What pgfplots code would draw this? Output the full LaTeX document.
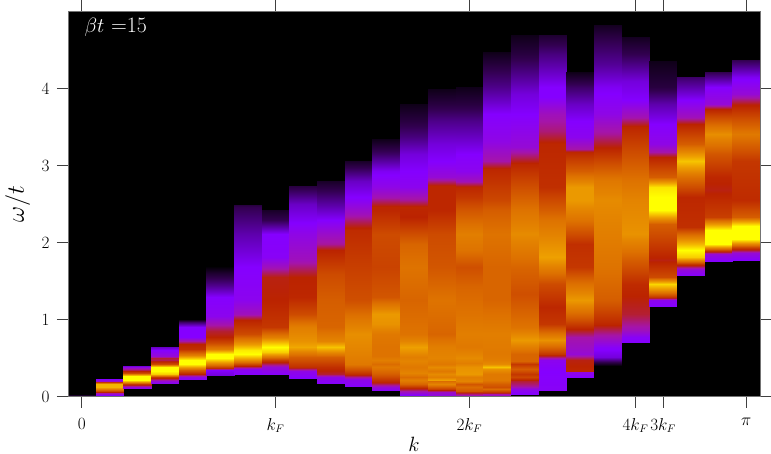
\documentclass[border=0pt]{standalone}
\usepackage{pgfplots}
\pgfplotsset{compat=1.18}

% one spectrum column: left edge, right edge, list of omega/weight stops
\newcommand\speccol[3]{%
  \gdef\buf{}%
  \foreach \w/\c in {#3} {\xdef\buf{\buf (#1,\w) [\c] (#2,\w) [\c]}}%
  \edef\temp{\noexpand\addplot[surf,shader=interp,mesh/cols=2,point meta=explicit] coordinates {\buf};}%
  \temp
}

\begin{document}
\begin{tikzpicture}
\useasboundingbox (-68bp,-57.3bp) rectangle (703bp,396.7bp);
\begin{axis}[
  scale only axis,
  width=692bp, height=385.2bp,
  xmin=-0.5, xmax=24.5, ymin=0, ymax=5,
  xtick={0,7,14,20,21,24},
  xticklabels={$0$,$k_F$,$2k_F$,$4k_F$,$3k_F$,$\pi$},
  ytick={0,1,2,3,4},
  tick align=outside,
  major tick length=11bp,
  tick style={black!75,line width=0.8pt},
  axis line style={black!55,line width=0.8pt},
  xticklabel pos=bottom,
  yticklabel pos=left,
  xtick pos=both, ytick pos=both,
  tick label style={font=\fontsize{16}{16}\selectfont},
  xticklabel style={yshift=-7bp},
  yticklabel style={xshift=-4bp},
  xlabel={$k$}, ylabel={$\omega/t$},
  xlabel style={font=\fontsize{20}{20}\selectfont,inner sep=0pt,yshift=-1bp},
  ylabel style={font=\fontsize{25}{25}\selectfont,inner sep=0pt,yshift=8bp},
  axis background/.style={fill=black},
  axis on top,
  clip=true,
  point meta min=0, point meta max=100,
  colormap={fire}{
    rgb255(0)=(0,0,0)
    rgb255(10)=(50,0,80)
    rgb255(25)=(133,0,255)
    rgb255(35)=(165,20,170)
    rgb255(45)=(187,35,0)
    rgb255(55)=(205,75,0)
    rgb255(65)=(221,112,0)
    rgb255(72)=(228,132,0)
    rgb255(80)=(238,160,0)
    rgb255(90)=(248,205,0)
    rgb255(100)=(255,255,0)
  },
]
\speccol{-0.5}{0.5}{0/15,0.03/0}
\speccol{0.5}{1.5}{.02/0,.021/25,.05/35,.08/55,.13/85,.16/85,.19/50,.21/30,.23/25,.231/0}
\speccol{1.5}{2.5}{.10/0,.101/25,.13/30,.16/50,.22/100,.27/100,.31/55,.35/40,.38/28,.40/22,.401/0}
\speccol{2.5}{3.5}{.17/0,.171/25,.21/30,.25/50,.30/90,.34/100,.38/100,.43/55,.47/40,.50/42,.53/30,.6/25,.65/20,.651/0}
\speccol{3.5}{4.5}{.22/0,.221/25,.26/28,.29/45,.35/60,.42/100,.47/100,.54/70,.62/48,.68/45,.72/35,.78/25,.9/25,.97/12,1.0/4,1.001/0}
\speccol{4.5}{5.5}{.28/0,.281/22,.35/25,.37/48,.42/70,.50/100,.55/100,.62/70,.7/55,.78/45,.85/42,.93/35,1.05/27,1.3/25,1.45/15,1.6/6,1.7/0}
\speccol{5.5}{6.5}{.285/0,.286/25,.36/27,.40/45,.47/75,.55/100,.6/96,.68/78,.81/55,.99/45,1.07/33,1.25/27,1.68/25,2.11/18,2.46/10,2.49/8,2.491/0}
\speccol{6.5}{7.5}{.285/0,.286/25,.38/30,.47/52,.58/90,.64/100,.7/88,.77/70,.9/50,1.25/45,1.55/44,1.68/33,1.81/26,2.11/25,2.29/10,2.42/5,2.421/0}
\speccol{7.5}{8.5}{.24/0,.241/25,.33/28,.38/48,.51/60,.64/82,.72/76,.9/70,1.07/55,1.29/46,1.55/45,1.77/33,2.11/28,2.5/20,2.74/8,2.741/0}
\speccol{8.5}{9.5}{.17/0,.171/25,.25/28,.29/42,.38/48,.51/60,.65/88,.72/72,.9/62,1.25/60,1.59/55,1.9/45,1.98/36,2.29/25,2.55/15,2.8/5,2.801/0}
\speccol{9.5}{10.5}{.13/0,.131/25,.23/28,.29/48,.42/68,.6/72,.81/75,.99/68,1.25/56,1.68/52,2.16/47,2.37/33,2.55/26,2.8/20,3.06/5,3.061/0}
\speccol{10.5}{11.5}{.08/0,.081/26,.13/30,.19/46,.29/60,.38/68,.42/64,.47/70,.53/66,.64/66,.81/68,.94/76,1.07/78,1.29/58,1.68/53,2.11/55,2.42/46,2.46/46,2.59/34,2.72/28,2.93/24,3.15/12,3.35/3,3.351/0}
\speccol{11.5}{12.5}{.02/0,.021/25,.08/35,.12/50,.16/62,.22/70,.26/64,.31/72,.38/68,.46/72,.51/70,.64/80,.72/72,.81/66,1.25/62,1.68/66,1.98/62,2.33/45,2.46/46,2.55/36,2.72/27,2.93/25,3.15/22,3.37/14,3.58/8,3.8/3,3.801/0}
\speccol{12.5}{13.5}{.01/0,.011/28,.06/32,.1/52,.13/60,.17/72,.2/64,.22/80,.25/70,.29/74,.33/68,.38/74,.43/68,.5/72,.64/70,.81/62,1.25/66,1.68/58,2.11/55,2.42/46,2.74/46,2.85/30,3.06/25,3.28/22,3.58/15,3.8/8,4.0/3,4.001/0}
\speccol{13.5}{14.5}{.01/0,.011/30,.05/42,.08/58,.12/64,.16/58,.2/72,.25/70,.3/78,.38/76,.44/70,.5/74,.64/68,.81/70,1.07/66,1.42/62,1.68/56,1.9/66,2.11/70,2.42/58,2.59/50,2.72/46,2.8/33,2.93/27,3.15/25,3.58/15,3.8/8,4.02/3,4.021/0}
\speccol{14.5}{15.5}{.01/0,.011/30,.03/35,.06/50,.1/64,.13/56,.16/60,.22/68,.29/68,.36/76,.39/88,.42/74,.48/70,.55/68,.81/70,1.25/62,1.68/62,2.11/66,2.42/60,2.55/54,2.96/46,3.06/35,3.32/28,3.67/25,4.02/15,4.23/10,4.47/3,4.471/0}
\speccol{15.5}{16.5}{.03/0,.031/25,.1/28,.14/36,.21/42,.25/54,.29/50,.36/60,.42/50,.46/62,.55/62,.73/78,.9/66,1.33/56,1.68/62,2.11/74,2.42/66,2.72/56,3.02/46,3.24/30,3.58/26,3.93/22,4.23/14,4.45/8,4.69/3,4.691/0}
\speccol{16.5}{17.5}{.08/0,.081/26,.34/25,.47/27,.55/50,.73/76,.94/50,1.16/46,1.46/55,1.81/80,2.29/66,2.42/60,2.72/48,3.28/46,3.45/38,3.67/33,3.89/25,4.02/25,4.45/14,4.7/6,4.701/0}
\speccol{17.5}{18.5}{.25/0,.251/25,.32/28,.34/46,.47/44,.55/30,.77/35,.86/44,1.03/60,1.25/78,1.51/62,1.68/50,1.98/48,2.29/66,2.55/78,2.72/78,2.93/60,3.17/46,3.22/35,3.37/27,3.58/25,3.8/20,4.02/12,4.21/3,4.211/0}
\speccol{18.5}{19.5}{.40/0,.42/5,.51/22,.64/26,.81/36,.94/46,1.25/60,1.68/66,2.11/70,2.55/74,2.8/68,3.06/54,3.26/44,3.41/36,3.67/28,4.02/24,4.32/16,4.62/10,4.82/4,4.821/0}
\speccol{19.5}{20.5}{.7/0,.701/25,.77/26,.86/33,1.07/42,1.46/47,1.77/60,2.11/76,2.55/72,2.8/66,3.15/56,3.5/46,3.63/34,3.85/25,4.1/22,4.45/10,4.67/4,4.671/0}
\speccol{20.5}{21.5}{1.17/0,1.171/25,1.25/27,1.29/50,1.38/75,1.46/92,1.55/55,1.77/44,2.24/60,2.42/100,2.59/100,2.72/95,2.85/60,3.11/45,3.17/35,3.28/28,3.54/25,3.8/18,4.02/8,4.36/3,4.361/0}
\speccol{21.5}{22.5}{1.57/0,1.571/25,1.66/30,1.72/50,1.81/90,1.9/100,1.98/85,2.2/48,2.59/46,2.85/65,3.06/88,3.28/60,3.54/45,3.63/33,3.85/25,4.15/12,4.151/0}
\speccol{22.5}{23.5}{1.76/0,1.761/25,1.85/30,1.9/55,1.98/100,2.16/100,2.33/52,2.68/44,2.85/46,3.15/58,3.41/75,3.74/45,3.8/30,4.02/25,4.22/10,4.221/0}
\speccol{23.5}{24.5}{1.77/0,1.771/25,1.87/30,1.94/55,2.05/100,2.22/100,2.33/60,2.55/47,3.06/50,3.41/68,3.8/44,3.93/30,4.15/24,4.37/10,4.371/0}
\node[white,anchor=west,font=\fontsize{22}{22}\selectfont] at (axis cs:-0.03,4.8) {$\beta t$ =15};
\end{axis}
\end{tikzpicture}
\end{document}
